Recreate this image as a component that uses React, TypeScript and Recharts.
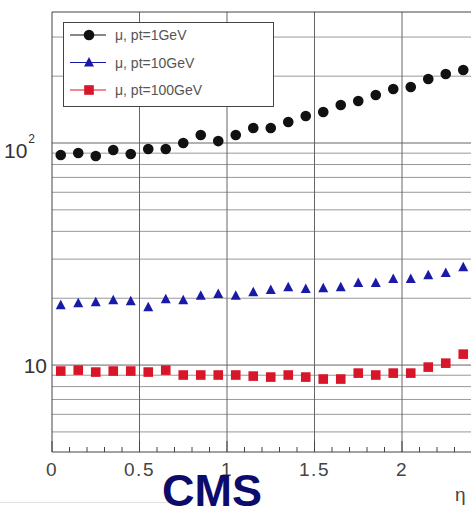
import { ReferenceLine, Scatter, ScatterChart, XAxis, YAxis } from "recharts";

// eta bin centres
const eta = [
  0.05, 0.15, 0.25, 0.35, 0.45, 0.55, 0.65, 0.75, 0.85, 0.95, 1.05, 1.15,
  1.25, 1.35, 1.45, 1.55, 1.65, 1.75, 1.85, 1.95, 2.05, 2.15, 2.25, 2.35,
];

// resolution values per muon pt
const pt1 = [
  88.3, 90.2, 87.4, 93.0, 89.2, 94.0, 94.0, 100, 108.7, 102, 108.7, 116.8,
  116.8, 124.3, 132.3, 137.9, 148.4, 154.6, 164.5, 175, 178.7, 194.2, 204.6,
  213.2,
];
const pt10 = [
  18.6, 19.0, 19.2, 19.6, 19.4, 18.2, 19.8, 19.6, 20.5, 20.9, 20.5, 21.3,
  21.8, 22.4, 22.0, 22.2, 22.4, 23.4, 23.4, 24.4, 24.4, 25.4, 26.0, 27.6,
];
const pt100 = [
  9.4, 9.49, 9.3, 9.4, 9.4, 9.3, 9.49, 9.02, 9.02, 9.02, 9.02, 8.92, 8.83,
  9.02, 8.83, 8.65, 8.65, 9.2, 9.02, 9.2, 9.2, 9.79, 10.2, 11.2,
];

const seriesNames = ["μ, pt=1GeV", "μ, pt=10GeV", "μ, pt=100GeV"];

const xTicks = [
  0, 0.1, 0.2, 0.3, 0.4, 0.5, 0.6, 0.7, 0.8, 0.9, 1, 1.1, 1.2, 1.3, 1.4, 1.5,
  1.6, 1.7, 1.8, 1.9, 2, 2.1, 2.2, 2.3, 2.4,
];
const xMajor = [0, 0.5, 1, 1.5, 2];
const xLabels = ["0", "0.5", "1", "1.5", "2"];
const yTicks = [10, 100];
const yGrid = [5, 6, 7, 8, 9, 10, 20, 30, 40, 50, 60, 70, 80, 90, 100, 200, 300];
const xGrid = [0.5, 1, 1.5, 2];

const toRows = (vals: number[]) => eta.map((e, i) => ({ eta: e, v: vals[i] }));
const d1 = toRows(pt1);
const d10 = toRows(pt10);
const d100 = toRows(pt100);

const FONT = "'Liberation Sans', Arial, sans-serif";

const Dot = ({ cx, cy }: any) => <circle cx={cx} cy={cy} r={5.3} fill="#111" />;
const Tri = ({ cx, cy }: any) => (
  <polygon
    points={`${cx},${cy - 5.5} ${cx + 5},${cy + 4} ${cx - 5},${cy + 4}`}
    fill="#1a1aa8"
  />
);
const Sq = ({ cx, cy }: any) => (
  <rect x={cx - 4.8} y={cy - 4.8} width={9.6} height={9.6} fill="#d8162a" />
);

const majorIndex = (v: number) => xMajor.findIndex((m) => Math.abs(m - v) < 1e-6);

const BottomTick = ({ x, y, payload }: any) => {
  const idx = majorIndex(payload.value);
  const major = idx >= 0;
  return (
    <g>
      <line x1={x} x2={x} y1={y} y2={y - (major ? 11 : 5)} stroke="#444" />
      {major && (
        <text
          x={x}
          y={y + 24}
          textAnchor="middle"
          fontSize={19}
          fill="#444"
          fontFamily={FONT}
          letterSpacing={1.5}
        >
          {xLabels[idx]}
        </text>
      )}
    </g>
  );
};

const TopTick = ({ x, y, payload }: any) => {
  const major = majorIndex(payload.value) >= 0;
  return <line x1={x} x2={x} y1={y} y2={y + (major ? 11 : 5)} stroke="#444" />;
};

const LeftTick = ({ x, y, payload }: any) => {
  if (payload.value === 100) {
    return (
      <text x={x - 17} y={y + 15} textAnchor="end" fontSize={21} fill="#333" fontFamily={FONT}>
        10
        <tspan fontSize={12} dx={1} dy={-15}>
          2
        </tspan>
      </text>
    );
  }
  return (
    <text x={x - 5} y={y + 8} textAnchor="end" fontSize={21} fill="#333" fontFamily={FONT}>
      10
    </text>
  );
};

const markers = [Dot, Tri, Sq];
const lineColors = ["#111", "#1a1aa8", "#d8162a"];

export default function App() {
  return (
    <div
      style={{
        position: "relative",
        width: 471,
        height: 512,
        overflow: "hidden",
        background: "#fff",
      }}
    >
      <style>{`body{margin:0}`}</style>
      <ScatterChart
        width={480}
        height={512}
        margin={{ top: 2, right: 8, bottom: 30, left: 0 }}
      >
        <XAxis
          dataKey="eta"
          type="number"
          domain={[0, 2.4]}
          ticks={xTicks}
          interval={0}
          height={30}
          tickSize={0}
          tickMargin={0}
          tickLine={false}
          tick={<BottomTick />}
          axisLine={{ stroke: "#444" }}
        />
        <XAxis
          xAxisId="top"
          orientation="top"
          dataKey="eta"
          type="number"
          domain={[0, 2.4]}
          ticks={xTicks}
          interval={0}
          height={10}
          tickSize={0}
          tickMargin={0}
          tickLine={false}
          tick={<TopTick />}
          axisLine={{ stroke: "#444" }}
        />
        <YAxis
          dataKey="v"
          type="number"
          scale="log"
          domain={[4.06, 389]}
          allowDataOverflow
          ticks={yTicks}
          interval={0}
          width={52}
          tickSize={0}
          tickMargin={0}
          tickLine={false}
          tick={<LeftTick />}
          axisLine={{ stroke: "#444" }}
        />
        {yGrid.map((v) => (
          <ReferenceLine
            key={`y${v}`}
            y={v}
            stroke={v === 10 || v === 100 ? "#666" : "#999"}
            strokeWidth={1}
          />
        ))}
        {xGrid.map((v) => (
          <ReferenceLine key={`x${v}`} x={v} stroke="#666" strokeWidth={1} />
        ))}
        <Scatter data={d1} shape={Dot} isAnimationActive={false} />
        <Scatter data={d10} shape={Tri} isAnimationActive={false} />
        <Scatter data={d100} shape={Sq} isAnimationActive={false} />
      </ScatterChart>

      {/* legend box, axis title and experiment label */}
      <svg
        width={471}
        height={512}
        style={{ position: "absolute", left: 0, top: 0, pointerEvents: "none" }}
      >
        <rect x={63.5} y={22.5} width={210} height={84} fill="#fff" stroke="#444" />
        {seriesNames.map((name, i) => {
          const y = 35 + i * 27.5;
          const M = markers[i];
          return (
            <g key={name}>
              <line x1={70} x2={106} y1={y} y2={y} stroke={lineColors[i]} />
              <M cx={89} cy={y} />
              <text x={115} y={y + 5} fontSize={14} fill="#555" fontFamily={FONT}>
                {name}
              </text>
            </g>
          );
        })}
        <line x1={0} x2={170} y1={502.5} y2={502.5} stroke="#e2e2e2" />
        <text x={455} y={501} fontSize={19} fill="#444" fontFamily={FONT}>
          η
        </text>
        <text
          x={162}
          y={506}
          fontSize={45}
          fontWeight="bold"
          fill="#0c0c6c"
          fontFamily={FONT}
        >
          CMS
        </text>
      </svg>
    </div>
  );
}
